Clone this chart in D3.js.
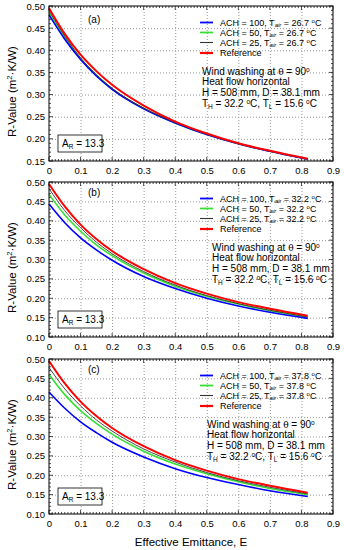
<!DOCTYPE html>
<html>
<head>
<meta charset="utf-8">
<script src="https://cdnjs.cloudflare.com/ajax/libs/d3/7.8.5/d3.min.js"></script>
<style>
  body { margin: 0; background: #fff; }
  svg { font-family: "Liberation Sans", Arial, sans-serif; }
  .grid line { stroke: #999; stroke-dasharray: 1,2; }
  .grid path { display: none; }
</style>
</head>
<body>
<svg id="chart" width="344" height="550"></svg>
<script>
// effective emittance sample points (x values shared by every curve)
var emittance = [0, 0.05, 0.1, 0.15, 0.2, 0.3, 0.4, 0.5, 0.6, 0.7, 0.82];

// reference curve, same in all three panels
var rReference = [0.495, 0.437, 0.390, 0.353, 0.322, 0.275, 0.239, 0.212, 0.190, 0.173, 0.155];

// panel (a), Tair = 26.7
var rA100 = [0.480, 0.425, 0.379, 0.342, 0.312, 0.268, 0.236, 0.210, 0.189, 0.172, 0.154];
var rA50  = [0.485, 0.429, 0.381, 0.344, 0.313, 0.269, 0.236, 0.210, 0.189, 0.172, 0.154];
var rA25  = [0.490, 0.432, 0.383, 0.345, 0.314, 0.269, 0.237, 0.211, 0.190, 0.173, 0.155];

// panel (b), Tair = 32.2
var rB100 = [0.443, 0.395, 0.356, 0.325, 0.298, 0.256, 0.225, 0.200, 0.180, 0.164, 0.148];
var rB50  = [0.468, 0.415, 0.373, 0.338, 0.310, 0.265, 0.231, 0.205, 0.185, 0.168, 0.151];
var rB25  = [0.483, 0.426, 0.382, 0.345, 0.315, 0.269, 0.234, 0.207, 0.186, 0.169, 0.152];

// panel (c), Tair = 37.8
var rC100 = [0.415, 0.373, 0.338, 0.310, 0.285, 0.247, 0.217, 0.194, 0.176, 0.160, 0.145];
var rC50  = [0.460, 0.408, 0.367, 0.334, 0.306, 0.262, 0.229, 0.204, 0.183, 0.166, 0.150];
var rC25  = [0.478, 0.423, 0.379, 0.343, 0.314, 0.268, 0.234, 0.207, 0.186, 0.169, 0.152];

var panelLabels = ["(a)", "(b)", "(c)"];
var airTemps = ["26.7", "32.2", "37.8"];
var achLevels = [100, 50, 25];
var yDomains = [[0.15, 0.50], [0.10, 0.50], [0.10, 0.50]];
var xTicks = [0, 0.1, 0.2, 0.3, 0.4, 0.5, 0.6, 0.7, 0.8, 0.9];

var panelSeries = [
  [rA100, rA50, rA25, rReference],
  [rB100, rB50, rB25, rReference],
  [rC100, rC50, rC25, rReference]
];

var colors = ["#0000ff", "#33e033", "#333333", "#ff0000"];
var widths = [1.6, 1.6, 0.9, 2];

var svg = d3.select("#chart"),
  margin = { left: 49, right: 11 },
  plotW = 344 - margin.left - margin.right,
  plotH = 155,
  panelTops = [6, 182, 359];

var x = d3.scaleLinear().domain([0, 0.9]).range([0, plotW]);

panelTops.forEach(function (top, i) {
  var y = d3.scaleLinear().domain(yDomains[i]).range([plotH, 0]);
  var yTicks = d3.range(yDomains[i][0], yDomains[i][1] + 0.001, 0.05);
  var g = svg.append("g").attr("transform", "translate(" + margin.left + "," + top + ")");

  // dotted grid
  g.append("g").attr("class", "grid")
    .call(d3.axisBottom(x).tickValues(xTicks.slice(1, -1)).tickSize(plotH).tickFormat(""));
  g.append("g").attr("class", "grid")
    .call(d3.axisLeft(y).tickValues(yTicks.slice(1, -1)).tickSize(-plotW).tickFormat(""));

  // minor ticks all round
  var minorX = d3.range(0, 0.9001, 0.01);
  var minorY = d3.range(yDomains[i][0], yDomains[i][1] + 0.0001, 0.01);
  var ticks = g.append("g").attr("stroke", "#000").attr("stroke-width", 0.7);
  minorX.forEach(function (v) {
    var len = Math.abs(v * 10 - Math.round(v * 10)) < 1e-6 ? 4 : 2;
    ticks.append("line").attr("x1", x(v)).attr("x2", x(v)).attr("y1", plotH).attr("y2", plotH - len);
    ticks.append("line").attr("x1", x(v)).attr("x2", x(v)).attr("y1", 0).attr("y2", len);
  });
  minorY.forEach(function (v) {
    var len = Math.abs(v * 20 - Math.round(v * 20)) < 1e-6 ? 4 : 2;
    ticks.append("line").attr("y1", y(v)).attr("y2", y(v)).attr("x1", 0).attr("x2", len);
    ticks.append("line").attr("y1", y(v)).attr("y2", y(v)).attr("x1", plotW).attr("x2", plotW - len);
  });

  // tick labels
  var xa = g.append("g").attr("transform", "translate(0," + plotH + ")")
    .call(d3.axisBottom(x).tickValues(xTicks).tickSize(0).tickPadding(6)
      .tickFormat(function (d) { return d === 0 ? "0" : d3.format(".1f")(d); }));
  xa.select(".domain").remove();
  var ya = g.append("g")
    .call(d3.axisLeft(y).tickValues(yTicks).tickSize(0).tickPadding(4).tickFormat(d3.format(".2f")));
  ya.select(".domain").remove();
  g.selectAll(".tick text").attr("font-size", "9.5px").attr("font-family", "Liberation Sans, Arial").attr("fill", "#000");

  // curves
  var line = d3.line()
    .x(function (d, k) { return x(emittance[k]); })
    .y(function (d) { return y(d); })
    .curve(d3.curveMonotoneX);
  [1, 0, 2, 3].forEach(function (s) {
    g.append("path")
      .datum(panelSeries[i][s])
      .attr("d", line)
      .attr("fill", "none")
      .attr("stroke", colors[s])
      .attr("stroke-width", widths[s]);
  });

  // frame
  g.append("rect").attr("width", plotW).attr("height", plotH)
    .attr("fill", "none").attr("stroke", "#000").attr("stroke-width", 1);

  // panel label
  g.append("text").attr("x", 39).attr("y", 17 - (i ? 3 : 0))
    .attr("font-size", "10px").text(panelLabels[i]);

  // legend
  var legRows = [16.5, 26.5, 36.5, 47];
  var legX = 151;
  legRows.forEach(function (ry, s) {
    g.append("line").attr("x1", legX).attr("x2", legX + 13).attr("y1", ry).attr("y2", ry)
      .attr("stroke", colors[s]).attr("stroke-width", widths[s] + 0.2);
    var t = g.append("text").attr("x", legX + 20).attr("y", ry + 3.3).attr("font-size", "9px");
    if (s === 3) { t.text("Reference"); return; }
    t.append("tspan").text("ACH = " + achLevels[s] + ", T");
    t.append("tspan").attr("dy", 1.5).attr("font-size", "6px").attr("font-style", "italic").text("air");
    t.append("tspan").attr("dy", -1.5).text(" = " + airTemps[i] + " ");
    t.append("tspan").attr("dy", -2.5).attr("font-size", "6px").text("o");
    t.append("tspan").attr("dy", 2.5).text("C");
  });

  // conditions text
  var tx = [153, 163, 158][i];
  var rows = [65, 75.5, 86, 97];
  var t1 = g.append("text").attr("x", tx).attr("y", rows[0] + 3.5).attr("font-size", "10px");
  t1.append("tspan").text("Wind washing at ");
  t1.append("tspan").attr("font-family", "DejaVu Serif, serif").attr("font-size", "9px").text("θ");
  t1.append("tspan").text(" = 90");
  t1.append("tspan").attr("dy", -3).attr("font-size", "6.5px").text("o");
  g.append("text").attr("x", tx).attr("y", rows[1] + 3.5).attr("font-size", "10px").text("Heat flow horizontal");
  g.append("text").attr("x", tx).attr("y", rows[2] + 3.5).attr("font-size", "10px").text("H = 508 mm, D = 38.1 mm");
  var t4 = g.append("text").attr("x", tx).attr("y", rows[3] + 3.5).attr("font-size", "10px");
  t4.append("tspan").text("T");
  t4.append("tspan").attr("dy", 2).attr("font-size", "6.5px").text("H");
  t4.append("tspan").attr("dy", -2).text(" = 32.2 ");
  t4.append("tspan").attr("dy", -3).attr("font-size", "6.5px").text("o");
  t4.append("tspan").attr("dy", 3).text("C, T");
  t4.append("tspan").attr("dy", 2).attr("font-size", "6.5px").text("L");
  t4.append("tspan").attr("dy", -2).text(" = 15.6 ");
  t4.append("tspan").attr("dy", -3).attr("font-size", "6.5px").text("o");
  t4.append("tspan").attr("dy", 3).text("C");

  // aspect ratio box
  g.append("rect").attr("x", 9).attr("y", plotH - 26).attr("width", 44).attr("height", 17)
    .attr("fill", "#fff").attr("stroke", "#000").attr("stroke-width", 0.8);
  var ar = g.append("text").attr("x", 13).attr("y", plotH - 14).attr("font-size", "10px");
  ar.append("tspan").text("A");
  ar.append("tspan").attr("dy", 2).attr("font-size", "6.5px").text("R");
  ar.append("tspan").attr("dy", -2).text(" = 13.3");

  // y axis title
  svg.append("text")
    .attr("text-anchor", "middle")
    .attr("transform", "translate(16," + (top + plotH / 2 + 8) + ")rotate(-90)")
    .attr("font-size", "11.5px")
    .call(function (t) {
      t.append("tspan").text("R-Value (m");
      t.append("tspan").attr("dy", -4).attr("font-size", "7.5px").text("2");
      t.append("tspan").attr("dy", 4).text("·K/W)");
    });
});

// x axis title
svg.append("text")
  .attr("text-anchor", "middle")
  .attr("x", margin.left + plotW / 2)
  .attr("y", 546)
  .attr("font-size", "11.5px")
  .text("Effective Emittance, E");
</script>
</body>
</html>
